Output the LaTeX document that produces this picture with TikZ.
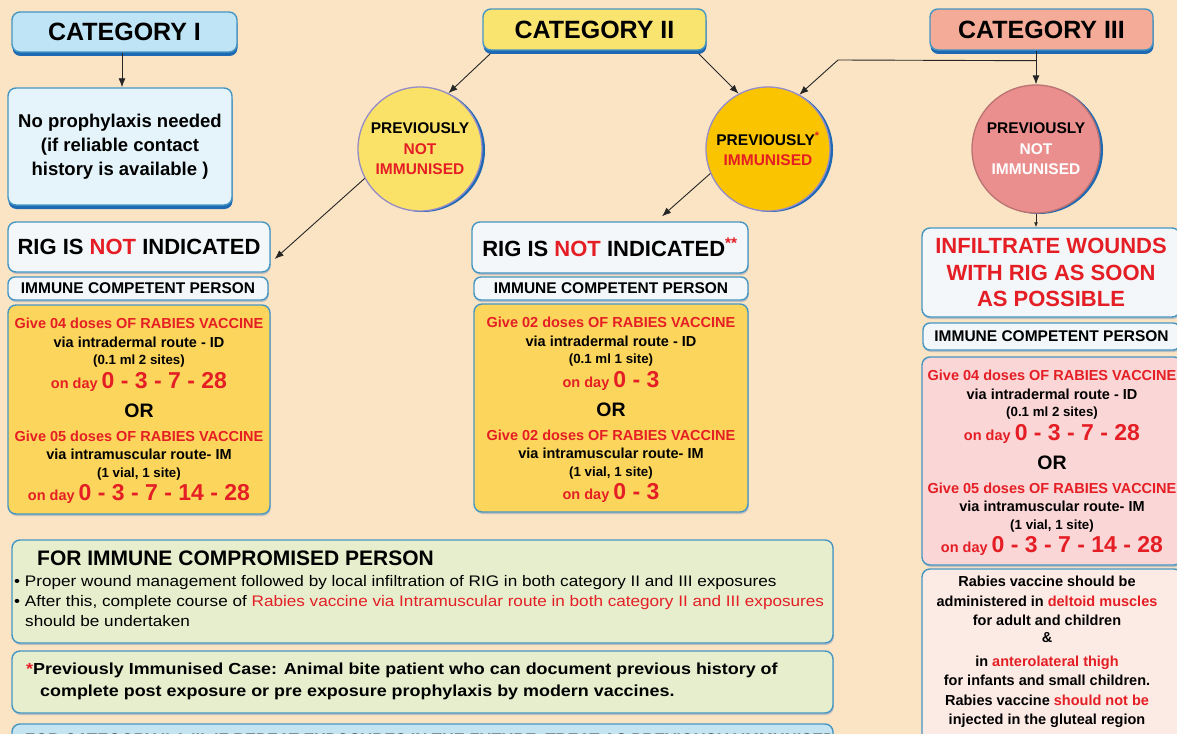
\documentclass[tikz,border=0pt]{standalone}
\usepackage{fontspec}
\setmainfont{Liberation Sans}
\newfontfamily\widefont[FakeStretch=1.12]{Liberation Sans}
\usetikzlibrary{arrows.meta,calc,shadows}
\definecolor{bgc}{RGB}{250,228,196}
\definecolor{sblue}{RGB}{30,105,180}
\definecolor{tborder}{RGB}{70,150,195}
\definecolor{cat1c}{RGB}{190,228,246}
\definecolor{lblue}{RGB}{228,244,250}
\definecolor{cat2c}{RGB}{250,228,112}
\definecolor{cat3c}{RGB}{244,172,152}
\definecolor{c1c}{RGB}{250,226,105}
\definecolor{c2c}{RGB}{250,196,0}
\definecolor{c3c}{RGB}{234,142,142}
\definecolor{cpurp}{RGB}{150,140,200}
\definecolor{vyel}{RGB}{252,214,92}
\definecolor{vpink}{RGB}{250,214,214}
\definecolor{npink}{RGB}{252,234,228}
\definecolor{whiteb}{RGB}{243,247,249}
\definecolor{gbox}{RGB}{230,238,206}
\definecolor{repc}{RGB}{196,228,242}
\definecolor{rtext}{RGB}{228,30,36}
\newcommand\myfs[1]{\fontsize{#1}{#1}\selectfont}
\tikzset{
  bxs/.style={draw=tborder, line width=1.4pt, rounded corners=8pt, inner sep=0pt, align=center},
  sshad/.style={general shadow={fill=black!25, shadow xshift=0.8pt, shadow yshift=-2pt}},
  cshad/.style={general shadow={fill=sblue, shadow xshift=0.5pt, shadow yshift=-4pt}},
  crc/.style={circle, inner sep=0pt, align=center, line width=1.3pt, minimum size=124pt,
     general shadow={fill=sblue, shadow xshift=3pt, shadow yshift=-1pt},
     font=\bfseries\fontsize{15.5}{20.5}\selectfont},
  vtx/.style={inner sep=0pt, font=\bfseries\myfs{14.5}},
  ltx/.style={inner sep=0pt, anchor=west},
  arrw/.style={-{Latex[length=9pt,width=7pt]}, line width=0.9pt, black!85}
}
\newcommand\vblock[6]{%
  \node[vtx, text=rtext] (#1a) at ($(#1.north)+(0,19)$) {Give #2 doses OF RABIES VACCINE};
  \node[vtx] (#1b) at ($(#1.north)+(0,38)$) {via intradermal route - ID};
  \node[vtx, font=\bfseries\myfs{13.3}] (#1c) at ($(#1.north)+(0,57)$) {(0.1 ml #3)};
  \node[vtx, text=rtext] (#1d) at ($(#1.north)+(0,78)$) {on day {\myfs{23}#4}};
  \node[vtx, font=\bfseries\myfs{19.5}] (#1e) at ($(#1.north)+(0,106)$) {OR};
  \node[vtx, text=rtext] (#1f) at ($(#1.north)+(0,132)$) {Give #5 doses OF RABIES VACCINE};
  \node[vtx] (#1g) at ($(#1.north)+(0,150)$) {via intramuscular route- IM};
  \node[vtx, font=\bfseries\myfs{13.3}] (#1h) at ($(#1.north)+(0,170)$) {(1 vial, 1 site)};
  \node[vtx, text=rtext] (#1i) at ($(#1.north)+(0,190)$) {on day {\myfs{23}#6}};
}
\begin{document}
\begin{tikzpicture}[x=1pt,y=-1pt]
\useasboundingbox (0,0) rectangle (1177,733);
\clip (0,0) rectangle (1177,733);
\fill[bgc] (-5,-5) rectangle (1182,738);

% category boxes
\node[bxs, cshad, fill=cat1c, minimum width=225pt, minimum height=40pt, font=\bfseries\myfs{25}] (cat1) at (124.5,32) {CATEGORY I};
\node[bxs, cshad, fill=cat2c, minimum width=223pt, minimum height=41pt, font=\bfseries\myfs{25}] (cat2) at (594.5,29.5) {CATEGORY II};
\node[bxs, cshad, fill=cat3c, minimum width=223pt, minimum height=41pt, font=\bfseries\myfs{25}] (cat3) at (1041.5,29.5) {CATEGORY III};

\node[bxs, cshad, fill=lblue, minimum width=224pt, minimum height=117pt, font=\bfseries\fontsize{18.5}{24}\selectfont] (noproph) at (120,146.5) {No prophylaxis needed\\(if reliable contact\\history is available )};

% circles
\node[crc, fill=c1c, draw=cpurp] (circ1) at (420,149) {PREVIOUSLY\\{\color{rtext}NOT}\\{\color{rtext}IMMUNISED}};
\node[crc, fill=c2c, draw=cpurp] (circ2) at (768,149) {PREVIOUSLY\textsuperscript{\color{rtext}*}\\{\color{rtext}IMMUNISED}};
\node[crc, fill=c3c, draw=c3c!80!black, minimum size=128pt] (circ3) at (1036,149) {PREVIOUSLY\\{\color{white}NOT}\\{\color{white}IMMUNISED}};

% left column
\node[bxs, sshad, fill=whiteb, minimum width=262pt, minimum height=50pt, font=\bfseries\myfs{22}] (rig1) at (139,247) {RIG IS {\color{rtext}NOT} INDICATED};
\node[bxs, sshad, fill=whiteb, minimum width=260pt, minimum height=23pt, rounded corners=7pt, font=\bfseries\myfs{15.5}] (imm1) at (138,288.5) {IMMUNE COMPETENT PERSON};
\node[bxs, sshad, fill=vyel, minimum width=262pt, minimum height=209pt] (vac1) at (139,409.5) {};
\vblock{vac1}{04}{2 sites}{0 - 3 - 7 - 28}{05}{0 - 3 - 7 - 14 - 28}

% middle column
\node[bxs, sshad, fill=whiteb, minimum width=276pt, minimum height=51pt, font=\bfseries\myfs{22}] (rig2) at (610,247.5) {RIG IS {\color{rtext}NOT} INDICATED\textsuperscript{\color{rtext}**}};
\node[bxs, sshad, fill=whiteb, minimum width=274pt, minimum height=23pt, rounded corners=7pt, font=\bfseries\myfs{15.5}] (imm2) at (611,288.5) {IMMUNE COMPETENT PERSON};
\node[bxs, sshad, fill=vyel, minimum width=274pt, minimum height=208pt] (vac2) at (611,408) {};
\vblock{vac2}{02}{1 site}{0 - 3}{02}{0 - 3}

% right column
\node[bxs, sshad, fill=whiteb, minimum width=258pt, minimum height=89pt, text=rtext, font=\bfseries\fontsize{22}{26.5}\selectfont] (inf) at (1051,272.5) {INFILTRATE WOUNDS\\WITH RIG AS SOON\\AS POSSIBLE};
\node[bxs, sshad, fill=whiteb, minimum width=257pt, minimum height=27pt, rounded corners=7pt, font=\bfseries\myfs{15.5}] (imm3) at (1051.5,336.5) {IMMUNE COMPETENT PERSON};
\node[bxs, sshad, fill=vpink, minimum width=260pt, minimum height=208pt] (vac3) at (1052,461) {};
\vblock{vac3}{04}{2 sites}{0 - 3 - 7 - 28}{05}{0 - 3 - 7 - 14 - 28}
\node[bxs, sshad, fill=npink, minimum width=260pt, minimum height=176pt] (notes) at (1052,657) {};
\node[inner sep=0pt, align=center, font=\bfseries\fontsize{14.5}{19.6}\selectfont] (ntext) at (1047,652) {Rabies vaccine should be\\administered in {\color{rtext}deltoid muscles}\\for adult and children\\[-3pt]\&\\[4pt]in {\color{rtext}anterolateral thigh}\\for infants and small children.\\Rabies vaccine {\color{rtext}should not be}\\injected in the gluteal region};

% bottom boxes
\node[bxs, sshad, fill=gbox, minimum width=821pt, minimum height=103pt] (ic) at (422.5,591.5) {};
\node[ltx, font=\bfseries\myfs{21}] (ictitle) at (37,558) {FOR IMMUNE COMPROMISED PERSON};
\node[ltx, font=\widefont\myfs{15.3}] (icb1) at (14,583) {• Proper wound management followed by local infiltration of RIG in both category II and III exposures};
\node[ltx, font=\widefont\myfs{15.3}] (icb2) at (14,603) {• After this, complete course of {\color{rtext}Rabies vaccine via Intramuscular route in both category II and III exposures}};
\node[ltx, font=\widefont\myfs{15.3}] (icb3) at (25,621) {should be undertaken};

\node[bxs, sshad, fill=gbox, minimum width=821pt, minimum height=62pt] (pic) at (422.5,682) {};
\node[ltx, font=\widefont\bfseries\myfs{16}] (pic1) at (26,670) {{\color{rtext}*}Previously Immunised Case: Animal bite patient who can document previous history of};
\node[ltx, font=\widefont\bfseries\myfs{16}] (pic2) at (40,692) {complete post exposure or pre exposure prophylaxis by modern vaccines.};

\node[bxs, sshad, fill=repc, minimum width=821pt, minimum height=56pt] (rep) at (422.5,752) {};
\node[inner sep=0pt, anchor=base west, font=\bfseries\myfs{16.5}] (rept) at (25,745) {FOR CATEGORY II \& III, IF REPEAT EXPOSURES IN THE FUTURE, TREAT AS PREVIOUSLY IMMUNISED};

% connectors
\draw[arrw] (cat1.south -| 122,0) -- (noproph.north -| 122,0);
\draw[arrw] ($(cat2.south west)+(8,3)$) -- (circ1.63);
\draw[arrw] ($(cat2.south east)+(-8,3)$) -- (circ2.118);
\coordinate (j3) at ($(circ3.north |- cat3.south)+(0,10)$);
\coordinate (b3) at (838,60);
\draw[arrw] (circ3.north |- cat3.south) -- (circ3.north);
\draw[arrw] (j3) -- (b3) -- (circ2.60);
\draw[arrw] (circ1.208) -- ($(rig1.east)+(4,12)$);
\draw[arrw] (circ2.203) -- ($(rig2.north)+(52,-5)$);
\draw[arrw, -{Latex[length=5pt,width=4pt]}] (circ3.south) -- (circ3.south |- inf.north);
\end{tikzpicture}
\end{document}
